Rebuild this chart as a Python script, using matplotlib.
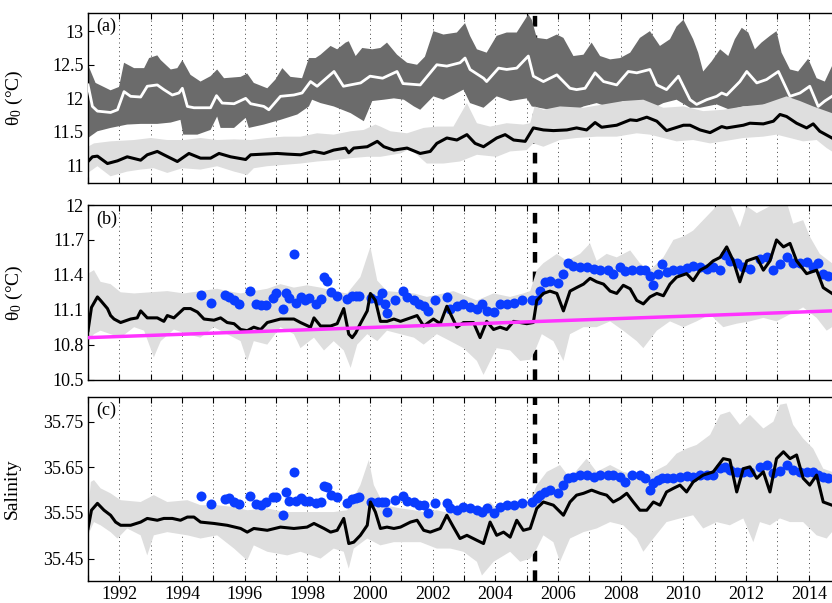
import numpy as np
import matplotlib
matplotlib.use('Agg')
import matplotlib.pyplot as plt
from matplotlib.ticker import MultipleLocator, FuncFormatter

plt.rcParams['font.family'] = 'Liberation Serif'
plt.rcParams['mathtext.fontset'] = 'custom'
plt.rcParams['mathtext.rm'] = 'Liberation Serif'
plt.rcParams['mathtext.it'] = 'Liberation Serif:italic'
plt.rcParams['xtick.direction'] = 'in'
plt.rcParams['ytick.direction'] = 'in'

# --- panel (a): upper layer (dark band + white mean), lower layer (light band + black mean) ---
a_dark_hi_t = [1991.00, 1991.24, 1991.72, 1991.99, 1992.15, 1992.47, 1992.79, 1992.95, 1993.21, 1993.32, 1993.64, 1993.85,
               1994.01, 1994.27, 1994.59, 1994.91, 1995.12, 1995.34, 1995.87, 1996.08, 1996.29, 1996.72, 1996.98, 1997.20,
               1997.46, 1997.83, 1998.05, 1998.26, 1998.42, 1998.74, 1998.95, 1999.22, 1999.32, 1999.54, 1999.75, 2000.07,
               2000.33, 2000.54, 2000.86, 2001.18, 2001.50, 2001.75, 2002.02, 2002.34, 2002.77, 2003.03, 2003.19, 2003.41,
               2003.72, 2004.04, 2004.36, 2004.68, 2005.05, 2005.16, 2005.32, 2005.64, 2005.96, 2006.17, 2006.49, 2006.81,
               2007.07, 2007.34, 2007.66, 2007.98, 2008.30, 2008.61, 2008.93, 2009.25, 2009.57, 2009.78, 2010.00, 2010.31,
               2010.47, 2010.63, 2010.90, 2011.17, 2011.43, 2011.64, 2011.86, 2012.07, 2012.28, 2012.49, 2012.76, 2012.97,
               2013.13, 2013.40, 2013.66, 2013.98, 2014.25, 2014.51, 2014.74]
a_dark_hi = [12.50, 12.23, 12.12, 12.17, 12.53, 12.45, 12.45, 12.60, 12.64, 12.57, 12.43, 12.45,
             12.57, 12.35, 12.25, 12.33, 12.43, 12.30, 12.32, 12.37, 12.23, 12.15, 12.28, 12.45,
             12.32, 12.30, 12.60, 12.60, 12.65, 12.78, 12.73, 12.83, 12.85, 12.63, 12.75, 12.73,
             12.75, 12.83, 12.65, 12.53, 12.50, 12.62, 13.00, 12.95, 12.98, 13.12, 12.93, 12.73,
             12.68, 12.93, 12.98, 12.98, 13.25, 13.17, 12.90, 12.88, 12.95, 12.90, 12.63, 12.65,
             12.83, 12.63, 12.58, 12.60, 12.68, 12.90, 13.00, 12.78, 12.88, 13.07, 13.17, 12.88,
             12.68, 12.40, 12.55, 12.73, 12.63, 12.88, 13.05, 12.98, 12.73, 12.83, 12.93, 13.00,
             12.68, 12.43, 12.40, 12.59, 12.30, 12.25, 12.48]

a_dark_lo_t = [1991.00, 1991.30, 1991.72, 1992.25, 1992.68, 1993.21, 1993.64, 1993.95, 1994.04, 1994.49, 1994.91, 1995.12,
               1995.23, 1995.66, 1996.03, 1996.13, 1996.61, 1997.14, 1997.68, 1998.05, 1998.15, 1998.42, 1998.84, 1999.38,
               1999.80, 2000.07, 2000.44, 2000.76, 2001.08, 2001.40, 2001.60, 2002.02, 2002.34, 2002.66, 2002.98, 2003.19,
               2003.62, 2004.04, 2004.47, 2005.00, 2005.16, 2005.74, 2006.28, 2006.81, 2007.23, 2007.66, 2008.08, 2008.51,
               2008.93, 2009.36, 2009.78, 2010.21, 2010.53, 2011.06, 2011.48, 2011.91, 2012.34, 2012.76, 2013.19, 2013.61,
               2014.03, 2014.46, 2014.74]
a_dark_lo = [11.41, 11.51, 11.56, 11.61, 11.62, 11.62, 11.64, 11.68, 11.46, 11.46, 11.53, 11.73,
             11.56, 11.56, 11.71, 11.56, 11.61, 11.68, 11.76, 11.88, 11.98, 11.93, 11.88, 11.78,
             11.66, 11.96, 11.98, 12.00, 11.98, 11.88, 11.83, 12.03, 11.98, 12.05, 12.13, 11.93,
             11.86, 12.03, 11.96, 12.00, 11.88, 11.83, 11.76, 11.88, 11.93, 11.86, 11.96, 11.93,
             11.83, 11.93, 11.98, 11.86, 11.86, 11.91, 11.83, 11.88, 11.88, 11.93, 12.00, 11.88,
             11.76, 11.71, 11.68]

a_white_t = [1991.00, 1991.14, 1991.30, 1991.72, 1991.94, 1992.15, 1992.36, 1992.68, 1992.89, 1993.21, 1993.42, 1993.69,
             1993.90, 1994.01, 1994.17, 1994.38, 1994.91, 1995.10, 1995.28, 1995.66, 1996.03, 1996.19, 1996.61, 1996.77,
             1997.14, 1997.57, 1997.83, 1998.10, 1998.31, 1998.85, 1999.15, 1999.70, 2000.00, 2000.40, 2000.86, 2001.05,
             2001.60, 2002.13, 2002.45, 2002.87, 2003.03, 2003.19, 2003.62, 2003.72, 2004.10, 2004.36, 2004.68, 2005.05,
             2005.21, 2005.53, 2005.96, 2006.38, 2006.59, 2006.86, 2007.18, 2007.45, 2007.87, 2008.24, 2008.51, 2008.93,
             2009.15, 2009.46, 2009.84, 2010.21, 2010.42, 2010.74, 2011.06, 2011.22, 2011.38, 2011.80, 2012.02, 2012.34,
             2012.65, 2013.03, 2013.40, 2013.72, 2014.03, 2014.30, 2014.51, 2014.74]
a_white = [12.20, 11.88, 11.81, 11.79, 11.83, 12.10, 12.03, 12.02, 12.18, 12.20, 12.13, 12.05,
           12.08, 12.15, 11.88, 11.86, 11.86, 12.04, 11.93, 11.92, 12.00, 11.92, 11.88, 11.83,
           12.03, 12.05, 12.08, 12.25, 12.18, 12.40, 12.18, 12.23, 12.33, 12.30, 12.40, 12.22,
           12.20, 12.50, 12.48, 12.53, 12.60, 12.43, 12.30, 12.25, 12.45, 12.43, 12.45, 12.63,
           12.33, 12.25, 12.35, 12.15, 12.13, 12.15, 12.38, 12.25, 12.20, 12.40, 12.38, 12.43,
           12.20, 12.13, 12.33, 11.98, 11.91, 11.98, 12.03, 12.08, 12.05, 12.25, 12.40, 12.23,
           12.28, 12.40, 12.03, 12.08, 12.18, 11.88, 11.96, 12.03]

a_light_hi_t = [1991.00, 1991.19, 1991.72, 1992.47, 1993.00, 1993.53, 1994.06, 1994.59, 1995.12, 1995.66, 1996.19, 1996.72,
                1997.25, 1997.78, 1998.31, 1998.84, 1999.38, 1999.80, 2000.17, 2000.33, 2000.65, 2001.18, 2001.71, 2002.13,
                2002.66, 2003.09, 2003.41, 2003.83, 2004.36, 2004.89, 2005.11, 2005.25, 2005.53, 2006.06, 2006.81, 2007.45,
                2008.08, 2008.72, 2009.36, 2010.00, 2010.63, 2011.27, 2011.91, 2012.55, 2013.29, 2013.72, 2014.14, 2014.74]
a_light_hi = [11.28, 11.33, 11.36, 11.38, 11.41, 11.38, 11.38, 11.41, 11.38, 11.39, 11.38, 11.41,
              11.43, 11.43, 11.48, 11.46, 11.51, 11.53, 11.61, 11.58, 11.51, 11.48, 11.56, 11.58,
              11.58, 11.93, 11.63, 11.58, 11.63, 11.61, 11.63, 11.88, 11.83, 11.88, 11.86, 11.91,
              11.96, 11.98, 11.86, 11.88, 11.81, 11.83, 11.88, 11.91, 12.03, 11.96, 11.88, 11.78]

a_light_lo_t = [1991.00, 1991.30, 1991.72, 1992.25, 1992.68, 1993.10, 1993.53, 1994.01, 1994.59, 1995.12, 1995.66, 1996.08,
                1996.29, 1996.72, 1997.25, 1997.78, 1998.31, 1998.84, 1999.38, 1999.91, 2000.33, 2000.97, 2001.28, 2001.81,
                2002.34, 2002.87, 2003.41, 2004.04, 2004.47, 2005.00, 2005.21, 2005.53, 2006.06, 2006.59, 2007.23, 2007.87,
                2008.51, 2008.93, 2009.36, 2009.78, 2010.31, 2010.85, 2011.27, 2011.91, 2012.55, 2012.97, 2013.40, 2013.82,
                2014.25, 2014.57, 2014.74]
a_light_lo = [10.89, 10.99, 10.84, 10.91, 10.94, 10.96, 10.89, 10.96, 10.94, 10.99, 10.91, 10.86,
              10.96, 10.99, 11.01, 11.03, 11.06, 11.08, 11.11, 11.13, 11.13, 11.18, 11.25, 11.03,
              11.03, 11.06, 11.16, 11.13, 11.21, 11.23, 11.33, 11.28, 11.38, 11.41, 11.43, 11.43,
              11.48, 11.46, 11.41, 11.36, 11.38, 11.33, 11.36, 11.41, 11.43, 11.46, 11.41, 11.36,
              11.38, 11.26, 11.21]

a_black_t = [1991.00, 1991.14, 1991.30, 1991.62, 1991.94, 1992.25, 1992.68, 1992.89, 1993.21, 1993.42, 1993.85, 1994.22,
             1994.59, 1994.91, 1995.18, 1995.55, 1996.03, 1996.19, 1996.61, 1997.04, 1997.36, 1997.78, 1998.21, 1998.53,
             1998.84, 1999.22, 1999.32, 1999.48, 1999.91, 2000.23, 2000.44, 2000.76, 2001.18, 2001.60, 2001.92, 2002.13,
             2002.45, 2002.77, 2003.09, 2003.35, 2003.62, 2004.04, 2004.31, 2004.58, 2004.95, 2005.21, 2005.53, 2005.85,
             2006.28, 2006.59, 2006.91, 2007.18, 2007.39, 2007.87, 2008.30, 2008.51, 2008.83, 2009.15, 2009.46, 2010.00,
             2010.21, 2010.53, 2010.85, 2011.22, 2011.38, 2011.91, 2012.12, 2012.55, 2012.87, 2013.08, 2013.29, 2013.61,
             2013.93, 2014.14, 2014.35, 2014.74]
a_black = [11.06, 11.13, 11.14, 11.03, 11.07, 11.13, 11.08, 11.16, 11.21, 11.16, 11.06, 11.18,
           11.11, 11.11, 11.18, 11.13, 11.09, 11.16, 11.17, 11.18, 11.17, 11.16, 11.21, 11.18,
           11.23, 11.26, 11.19, 11.26, 11.28, 11.36, 11.28, 11.23, 11.26, 11.18, 11.21, 11.33,
           11.41, 11.38, 11.46, 11.33, 11.28, 11.41, 11.46, 11.38, 11.36, 11.56, 11.53, 11.52,
           11.53, 11.56, 11.53, 11.64, 11.57, 11.60, 11.68, 11.67, 11.72, 11.66, 11.52, 11.60,
           11.60, 11.53, 11.49, 11.58, 11.56, 11.60, 11.63, 11.62, 11.66, 11.76, 11.73, 11.63,
           11.56, 11.62, 11.51, 11.41]

# --- panel (b): temperature band, mean, observations, trend ---
b_hi_t = [1991.00, 1991.19, 1991.40, 1991.72, 1992.04, 1992.47, 1993.00, 1993.53, 1994.06, 1994.59, 1995.12, 1995.66,
          1995.87, 1996.29, 1996.72, 1997.14, 1997.57, 1997.99, 1998.42, 1998.84, 1999.27, 1999.69, 2000.01, 2000.23,
          2000.54, 2000.97, 2001.40, 2001.81, 2002.34, 2002.66, 2003.41, 2003.94, 2004.47, 2004.89, 2005.11, 2005.32,
          2005.53, 2005.96, 2006.28, 2006.70, 2007.02, 2007.23, 2007.55, 2007.87, 2008.30, 2008.61, 2008.93, 2009.36,
          2009.68, 2010.00, 2010.31, 2010.63, 2010.95, 2011.17, 2011.48, 2011.80, 2012.02, 2012.34, 2012.76, 2012.97,
          2013.29, 2013.50, 2013.82, 2014.03, 2014.35, 2014.74]
b_hi = [11.41, 11.44, 11.34, 11.32, 11.25, 11.24, 11.25, 11.26, 11.24, 11.26, 11.28, 11.25,
        11.24, 11.26, 11.28, 11.32, 11.29, 11.31, 11.29, 11.26, 11.24, 11.38, 11.64, 11.35,
        11.26, 11.25, 11.24, 11.21, 11.24, 11.26, 11.18, 11.24, 11.21, 11.24, 11.26, 11.44,
        11.50, 11.58, 11.52, 11.58, 11.67, 11.52, 11.58, 11.55, 11.61, 11.50, 11.44, 11.55,
        11.70, 11.73, 11.78, 11.87, 11.96, 12.03, 12.01, 11.81, 11.99, 11.93, 11.99, 12.03,
        12.03, 11.84, 11.87, 11.73, 11.58, 11.50]

b_lo_t = [1991.00, 1991.19, 1991.40, 1991.72, 1992.04, 1992.47, 1992.79, 1993.10, 1993.32, 1993.74, 1994.17, 1994.59,
          1995.02, 1995.44, 1995.87, 1996.08, 1996.29, 1996.72, 1997.14, 1997.57, 1997.78, 1998.21, 1998.53, 1998.84,
          1999.16, 1999.38, 1999.59, 1999.91, 2000.23, 2000.54, 2000.97, 2001.40, 2001.71, 2002.13, 2002.56, 2002.98,
          2003.41, 2003.62, 2004.04, 2004.47, 2004.79, 2005.11, 2005.27, 2005.48, 2005.85, 2006.17, 2006.38, 2006.81,
          2007.23, 2007.66, 2008.08, 2008.51, 2008.72, 2009.15, 2009.57, 2010.00, 2010.42, 2010.85, 2011.27, 2011.70,
          2012.12, 2012.55, 2012.97, 2013.40, 2013.82, 2014.25, 2014.57, 2014.74]
b_lo = [10.83, 10.89, 10.92, 10.89, 10.86, 10.95, 10.92, 10.69, 10.83, 10.93, 10.89, 10.86,
        10.95, 10.89, 10.83, 10.66, 10.83, 10.80, 10.95, 10.89, 10.77, 10.86, 10.75, 10.83,
        10.75, 10.60, 10.80, 10.89, 10.83, 10.92, 10.89, 10.86, 10.80, 10.89, 10.83, 10.77,
        10.66, 10.54, 10.77, 10.75, 10.66, 10.67, 10.75, 10.89, 10.83, 10.66, 10.89, 10.95,
        10.95, 11.00, 10.92, 10.83, 10.77, 10.92, 11.00, 10.95, 11.00, 11.06, 10.95, 10.98,
        11.00, 11.03, 11.00, 11.06, 11.12, 11.03, 10.92, 10.95]

b_mean_t = [1991.00, 1991.11, 1991.30, 1991.40, 1991.62, 1991.72, 1991.83, 1992.04, 1992.36, 1992.57, 1992.68, 1992.89,
            1993.21, 1993.42, 1993.53, 1993.74, 1994.06, 1994.27, 1994.49, 1994.70, 1995.02, 1995.23, 1995.44, 1995.66,
            1995.87, 1996.08, 1996.29, 1996.51, 1996.72, 1997.14, 1997.57, 1997.78, 1998.10, 1998.21, 1998.42, 1998.74,
            1998.95, 1999.16, 1999.32, 1999.43, 1999.54, 1999.69, 1999.91, 2000.01, 2000.17, 2000.33, 2000.54, 2000.76,
            2000.97, 2001.29, 2001.50, 2001.71, 2002.02, 2002.24, 2002.45, 2002.77, 2002.98, 2003.30, 2003.51, 2003.72,
            2003.94, 2004.15, 2004.36, 2004.58, 2004.79, 2005.00, 2005.21, 2005.32, 2005.53, 2005.74, 2005.96, 2006.17,
            2006.38, 2006.59, 2006.81, 2007.02, 2007.23, 2007.45, 2007.66, 2007.87, 2008.08, 2008.30, 2008.51, 2008.72,
            2008.93, 2009.15, 2009.36, 2009.57, 2009.78, 2010.10, 2010.31, 2010.53, 2010.74, 2010.95, 2011.17, 2011.38,
            2011.59, 2011.80, 2012.02, 2012.34, 2012.55, 2012.76, 2012.97, 2013.19, 2013.40, 2013.61, 2013.93, 2014.25,
            2014.46, 2014.74]
b_mean = [10.92, 11.12, 11.21, 11.18, 11.11, 11.05, 11.02, 10.99, 11.02, 11.03, 11.09, 11.03,
          11.03, 11.00, 11.05, 11.03, 11.11, 11.11, 11.08, 11.02, 11.01, 11.03, 10.99, 10.98,
          10.93, 10.92, 10.95, 10.93, 10.99, 11.02, 11.02, 10.99, 10.95, 11.03, 10.96, 10.96,
          10.98, 11.11, 10.89, 10.86, 10.90, 10.98, 11.09, 11.24, 11.18, 11.00, 11.00, 11.02,
          11.00, 11.03, 11.05, 10.96, 11.02, 10.98, 11.13, 10.95, 10.99, 10.99, 10.86, 11.00,
          10.93, 10.95, 10.93, 11.00, 10.99, 10.98, 10.99, 11.18, 11.24, 11.26, 11.24, 11.09,
          11.26, 11.29, 11.32, 11.37, 11.34, 11.32, 11.26, 11.24, 11.31, 11.28, 11.18, 11.15,
          11.21, 11.24, 11.22, 11.32, 11.38, 11.41, 11.35, 11.44, 11.47, 11.52, 11.55, 11.64,
          11.52, 11.34, 11.52, 11.55, 11.44, 11.52, 11.70, 11.64, 11.67, 11.52, 11.41, 11.44,
          11.29, 11.24]

b_trend_t = [1991.0, 2014.74]
b_trend = [10.86, 11.09]

# observations (same dates in (b) and (c))
obs_t = [1994.62, 1994.91, 1995.37, 1995.50, 1995.66, 1995.82, 1996.17, 1996.35, 1996.51, 1996.67, 1996.91, 1996.99,
         1997.23, 1997.32, 1997.42, 1997.57, 1997.63, 1997.78, 1997.91, 1998.05, 1998.26, 1998.42, 1998.53, 1998.63,
         1998.76, 1998.93, 1999.27, 1999.43, 1999.54, 1999.64, 2000.03, 2000.25, 2000.39, 2000.49, 2000.55, 2000.81,
         2001.04, 2001.18, 2001.40, 2001.55, 2001.71, 2001.86, 2002.08, 2002.45, 2002.56, 2002.77, 2002.98, 2003.19,
         2003.41, 2003.57, 2003.72, 2003.94, 2004.15, 2004.36, 2004.58, 2004.84, 2005.16, 2005.32, 2005.43, 2005.59,
         2005.74, 2006.01, 2006.17, 2006.33, 2006.49, 2006.70, 2006.91, 2007.13, 2007.34, 2007.60, 2007.76, 2007.98,
         2008.14, 2008.35, 2008.61, 2008.77, 2008.93, 2009.04, 2009.20, 2009.30, 2009.46, 2009.68, 2009.89, 2010.10,
         2010.31, 2010.53, 2010.74, 2010.95, 2011.17, 2011.32, 2011.48, 2011.70, 2011.91, 2012.12, 2012.44, 2012.65,
         2012.87, 2013.08, 2013.29, 2013.50, 2013.72, 2013.93, 2014.14, 2014.30, 2014.46, 2014.62]
b_obs = [11.23, 11.16, 11.23, 11.21, 11.18, 11.15, 11.26, 11.15, 11.14, 11.14, 11.20, 11.24,
         11.11, 11.24, 11.20, 11.58, 11.16, 11.21, 11.18, 11.20, 11.15, 11.19, 11.38, 11.35,
         11.25, 11.22, 11.19, 11.22, 11.22, 11.22, 11.20, 11.18, 11.24, 11.15, 11.07, 11.18,
         11.26, 11.21, 11.18, 11.15, 11.13, 11.09, 11.18, 11.21, 11.11, 11.13, 11.15, 11.12,
         11.11, 11.15, 11.09, 11.08, 11.15, 11.15, 11.16, 11.18, 11.18, 11.18, 11.26, 11.34,
         11.35, 11.33, 11.41, 11.50, 11.48, 11.47, 11.47, 11.45, 11.44, 11.44, 11.41, 11.47,
         11.43, 11.44, 11.44, 11.44, 11.39, 11.31, 11.41, 11.49, 11.42, 11.44, 11.44, 11.46,
         11.48, 11.47, 11.45, 11.47, 11.44, 11.57, 11.52, 11.50, 11.47, 11.45, 11.54, 11.55,
         11.44, 11.49, 11.55, 11.50, 11.50, 11.51, 11.47, 11.50, 11.41, 11.39]
c_obs = [35.587, 35.569, 35.580, 35.583, 35.574, 35.570, 35.587, 35.570, 35.567, 35.573, 35.585, 35.585,
         35.545, 35.595, 35.576, 35.639, 35.576, 35.582, 35.576, 35.576, 35.571, 35.574, 35.609, 35.607,
         35.589, 35.585, 35.571, 35.580, 35.582, 35.585, 35.573, 35.573, 35.574, 35.573, 35.552, 35.578,
         35.587, 35.576, 35.573, 35.567, 35.567, 35.549, 35.571, 35.571, 35.560, 35.556, 35.563, 35.560,
         35.556, 35.552, 35.560, 35.549, 35.563, 35.567, 35.567, 35.571, 35.573, 35.582, 35.589, 35.596,
         35.600, 35.593, 35.611, 35.626, 35.629, 35.633, 35.633, 35.629, 35.633, 35.633, 35.633, 35.629,
         35.618, 35.633, 35.633, 35.626, 35.600, 35.615, 35.622, 35.626, 35.626, 35.626, 35.629, 35.631,
         35.629, 35.633, 35.633, 35.633, 35.648, 35.651, 35.644, 35.640, 35.640, 35.640, 35.651, 35.655,
         35.637, 35.642, 35.655, 35.644, 35.640, 35.640, 35.640, 35.633, 35.629, 35.626]

# --- panel (c): salinity ---
c_hi_t = [1991.00, 1991.09, 1991.19, 1991.40, 1991.72, 1992.04, 1992.68, 1993.10, 1993.53, 1994.17, 1994.59, 1995.12,
          1995.66, 1996.08, 1996.72, 1997.25, 1997.78, 1998.42, 1998.84, 1999.27, 1999.69, 1999.96, 2000.12, 2000.44,
          2000.97, 2001.40, 2001.71, 2002.13, 2002.56, 2002.98, 2003.41, 2003.83, 2004.15, 2004.47, 2004.89, 2005.11,
          2005.32, 2005.64, 2006.06, 2006.38, 2006.91, 2007.23, 2007.66, 2008.08, 2008.51, 2008.72, 2009.04, 2009.46,
          2009.78, 2010.10, 2010.42, 2010.85, 2011.17, 2011.48, 2011.80, 2012.12, 2012.55, 2012.87, 2013.08, 2013.29,
          2013.50, 2013.82, 2014.14, 2014.46, 2014.74]
c_hi = [35.549, 35.618, 35.622, 35.604, 35.593, 35.578, 35.574, 35.589, 35.574, 35.578, 35.567, 35.567,
        35.563, 35.556, 35.560, 35.552, 35.552, 35.552, 35.552, 35.556, 35.611, 35.666, 35.611, 35.567,
        35.560, 35.556, 35.552, 35.556, 35.549, 35.560, 35.556, 35.574, 35.552, 35.560, 35.567, 35.574,
        35.611, 35.640, 35.655, 35.626, 35.669, 35.640, 35.655, 35.640, 35.633, 35.626, 35.640, 35.655,
        35.680, 35.691, 35.699, 35.721, 35.765, 35.772, 35.743, 35.765, 35.735, 35.750, 35.787, 35.790,
        35.743, 35.713, 35.691, 35.647, 35.640]

c_lo_t = [1991.00, 1991.19, 1991.40, 1991.72, 1991.94, 1992.25, 1992.68, 1992.89, 1993.10, 1993.53, 1994.17, 1994.59,
          1995.12, 1995.66, 1996.08, 1996.29, 1996.72, 1997.36, 1997.78, 1998.42, 1998.84, 1999.16, 1999.32, 1999.48,
          1999.91, 2000.33, 2000.76, 2001.18, 2001.61, 2002.13, 2002.56, 2002.98, 2003.41, 2003.57, 2003.94, 2004.47,
          2004.79, 2005.11, 2005.32, 2005.53, 2005.85, 2006.06, 2006.38, 2006.81, 2007.23, 2007.66, 2008.08, 2008.51,
          2008.72, 2009.04, 2009.46, 2009.89, 2010.31, 2010.63, 2011.06, 2011.48, 2011.91, 2012.23, 2012.44, 2012.76,
          2013.08, 2013.40, 2013.82, 2014.25, 2014.57, 2014.74]
c_lo = [35.501, 35.530, 35.523, 35.508, 35.494, 35.516, 35.501, 35.457, 35.501, 35.508, 35.501, 35.494,
        35.501, 35.472, 35.446, 35.479, 35.465, 35.457, 35.465, 35.450, 35.472, 35.465, 35.428, 35.472,
        35.494, 35.479, 35.486, 35.486, 35.486, 35.472, 35.472, 35.465, 35.443, 35.413, 35.443, 35.465,
        35.443, 35.450, 35.472, 35.501, 35.486, 35.443, 35.494, 35.508, 35.516, 35.530, 35.523, 35.494,
        35.465, 35.494, 35.530, 35.538, 35.545, 35.516, 35.530, 35.523, 35.538, 35.486, 35.530, 35.523,
        35.538, 35.530, 35.530, 35.501, 35.494, 35.508]

c_mean_t = [1991.00, 1991.11, 1991.30, 1991.51, 1991.72, 1991.88, 1992.04, 1992.36, 1992.68, 1992.89, 1993.21, 1993.42,
            1993.69, 1993.95, 1994.17, 1994.38, 1994.59, 1995.02, 1995.44, 1995.87, 1996.08, 1996.29, 1996.72, 1997.14,
            1997.57, 1997.99, 1998.21, 1998.53, 1998.74, 1998.95, 1999.16, 1999.32, 1999.48, 1999.69, 1999.91, 2000.01,
            2000.17, 2000.33, 2000.54, 2000.76, 2000.97, 2001.29, 2001.50, 2001.71, 2001.92, 2002.24, 2002.45, 2002.66,
            2002.87, 2003.09, 2003.41, 2003.62, 2003.83, 2004.04, 2004.26, 2004.47, 2004.68, 2004.89, 2005.11, 2005.32,
            2005.53, 2005.85, 2006.17, 2006.38, 2006.59, 2006.81, 2007.07, 2007.34, 2007.55, 2007.76, 2007.98, 2008.19,
            2008.40, 2008.61, 2008.83, 2009.04, 2009.25, 2009.46, 2009.68, 2009.89, 2010.10, 2010.31, 2010.63, 2010.95,
            2011.27, 2011.48, 2011.70, 2011.91, 2012.12, 2012.34, 2012.55, 2012.76, 2012.97, 2013.19, 2013.40, 2013.61,
            2013.82, 2014.03, 2014.25, 2014.46, 2014.74]
c_mean = [35.516, 35.556, 35.571, 35.556, 35.545, 35.530, 35.523, 35.523, 35.530, 35.538, 35.534, 35.538,
          35.538, 35.534, 35.541, 35.541, 35.530, 35.527, 35.523, 35.516, 35.508, 35.516, 35.512, 35.519,
          35.516, 35.519, 35.527, 35.516, 35.508, 35.512, 35.538, 35.483, 35.486, 35.501, 35.523, 35.574,
          35.552, 35.516, 35.519, 35.516, 35.519, 35.530, 35.534, 35.512, 35.508, 35.516, 35.545, 35.519,
          35.494, 35.501, 35.490, 35.483, 35.530, 35.501, 35.508, 35.497, 35.534, 35.512, 35.516, 35.560,
          35.574, 35.567, 35.545, 35.574, 35.589, 35.593, 35.600, 35.593, 35.589, 35.574, 35.582, 35.593,
          35.574, 35.556, 35.556, 35.574, 35.567, 35.596, 35.604, 35.611, 35.596, 35.618, 35.633, 35.640,
          35.669, 35.666, 35.596, 35.647, 35.651, 35.626, 35.640, 35.596, 35.669, 35.684, 35.669, 35.677,
          35.626, 35.611, 35.633, 35.574, 35.567]

XMIN, XMAX = 1991.0, 2014.74
BREAK_YEAR = 2005.27
DARK = '#6b6b6b'
LIGHT = '#dedede'
BLUE = '#0a3cff'
MAGENTA = '#ff33ff'


def band(ax, t_hi, hi, t_lo, lo, color):
    x = np.r_[t_hi, t_lo[::-1]]
    y = np.r_[hi, lo[::-1]]
    ax.fill(x, y, color=color, lw=0, zorder=1)


def style(ax, ylim, yticks, ylabels, xlabels=False):
    ax.set_xlim(XMIN, XMAX)
    ax.set_ylim(*ylim)
    ax.set_yticks(yticks, ylabels)
    ax.xaxis.set_major_locator(MultipleLocator(1))
    if xlabels:
        ax.xaxis.set_major_formatter(
            FuncFormatter(lambda v, p: str(int(round(v))) if int(round(v)) % 2 == 0 else ''))
    else:
        ax.xaxis.set_major_formatter(FuncFormatter(lambda v, p: ''))
    ax.tick_params(axis='x', top=True, bottom=True, length=4, width=0.8, labelsize=13, pad=4)
    ax.tick_params(axis='y', left=True, right=False, length=4, width=0.8, labelsize=13, pad=3)
    ax.grid(axis='x', color='0.25', ls=(0, (1, 3.5)), lw=0.7)
    ax.set_axisbelow(True)
    ax.spines['right'].set_visible(False)
    for s in ('left', 'top', 'bottom'):
        ax.spines[s].set_linewidth(1.0)
    ax.axvline(BREAK_YEAR, color='k', lw=3.2, ls=(0, (2.4, 2.0)), zorder=0.8)


fig = plt.figure(figsize=(8.32, 6.03), dpi=100)
ax_a = fig.add_axes([0.1058, 0.6965, 0.8942, 0.2819])
ax_b = fig.add_axes([0.1058, 0.3706, 0.8942, 0.2894])
ax_c = fig.add_axes([0.1058, 0.0373, 0.8942, 0.3043])

# (a)
band(ax_a, a_dark_hi_t, a_dark_hi, a_dark_lo_t, a_dark_lo, DARK)
band(ax_a, a_light_hi_t, a_light_hi, a_light_lo_t, a_light_lo, LIGHT)
ax_a.plot(a_white_t, a_white, color='white', lw=2.0, zorder=3)
ax_a.plot(a_black_t, a_black, color='k', lw=2.2, zorder=3)
style(ax_a, (10.74, 13.27), [11, 11.5, 12, 12.5, 13], ['11', '11.5', '12', '12.5', '13'])
ax_a.set_ylabel('$\\mathregular{θ_0}$ (°C)', fontsize=14)
ax_a.yaxis.set_label_coords(-0.085, 0.5)
ax_a.text(0.011, 0.975, '(a)', transform=ax_a.transAxes, va='top', ha='left', fontsize=13)

# (b)
band(ax_b, b_hi_t, b_hi, b_lo_t, b_lo, LIGHT)
ax_b.plot(obs_t, b_obs, 'o', color=BLUE, ms=7.2, mec='none', zorder=3)
ax_b.plot(b_mean_t, b_mean, color='k', lw=2.2, zorder=4)
ax_b.plot(b_trend_t, b_trend, color=MAGENTA, lw=2.5, zorder=5)
style(ax_b, (10.5, 12.0), [10.5, 10.8, 11.1, 11.4, 11.7, 12.0],
      ['10.5', '10.8', '11.1', '11.4', '11.7', '12'])
ax_b.set_ylabel('$\\mathregular{θ_0}$ (°C)', fontsize=14)
ax_b.yaxis.set_label_coords(-0.085, 0.5)
ax_b.text(0.011, 0.965, '(b)', transform=ax_b.transAxes, va='top', ha='left', fontsize=13)

# (c)
band(ax_c, c_hi_t, c_hi, c_lo_t, c_lo, LIGHT)
ax_c.plot(obs_t, c_obs, 'o', color=BLUE, ms=7.2, mec='none', zorder=3)
ax_c.plot(c_mean_t, c_mean, color='k', lw=2.2, zorder=4)
style(ax_c, (35.402, 35.804), [35.45, 35.55, 35.65, 35.75],
      ['35.45', '35.55', '35.65', '35.75'], xlabels=True)
ax_c.set_ylabel('Salinity', fontsize=14)
ax_c.yaxis.set_label_coords(-0.09, 0.5)
ax_c.text(0.011, 0.975, '(c)', transform=ax_c.transAxes, va='top', ha='left', fontsize=13)

fig.savefig('out.png', dpi=100)
